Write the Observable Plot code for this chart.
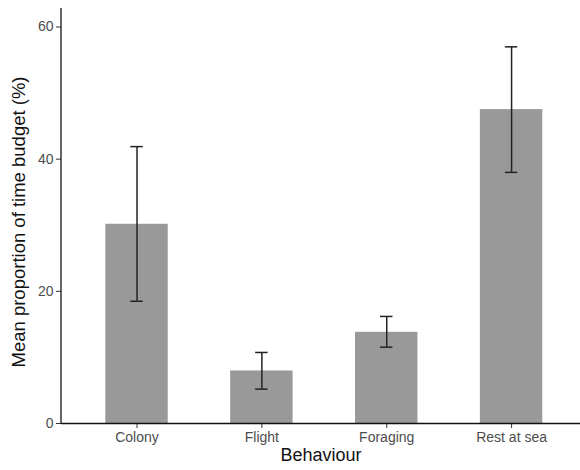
<!DOCTYPE html>
<html>
<head>
<meta charset="utf-8">
<script src="https://cdn.jsdelivr.net/npm/d3@7"></script>
<script src="https://cdn.jsdelivr.net/npm/@observablehq/plot@0.6"></script>
<style>
  html, body { margin: 0; padding: 0; background: #fff; overflow: hidden; }
  svg { display: block; }
</style>
</head>
<body>
<div id="chart"></div>
<script>
const behaviours = ["Colony", "Flight", "Foraging", "Rest at sea"];
const means = [30.15, 7.95, 13.8, 47.5];
const lower = [18.5, 5.2, 11.55, 38.0];
const upper = [41.9, 10.75, 16.2, 57.0];
const yTicks = [0, 20, 40, 60];

const data = behaviours.map((b, i) => ({b, mean: means[i], lo: lower[i], hi: upper[i]}));

const chart = Plot.plot({
  width: 580,
  height: 470,
  marginLeft: 61,
  marginTop: 8,
  marginBottom: 47,
  marginRight: 0,
  style: {fontFamily: "Liberation Sans, Arial, sans-serif", background: "#fff"},
  x: {domain: behaviours, range: [61.6, 586], paddingInner: 0.5, paddingOuter: 0.35, round: false, label: null},
  y: {domain: [0, 62.8], label: null},
  marks: [
    Plot.barY(data, {x: "b", y: "mean", fill: "#999999"}),
    Plot.ruleX(data, {x: "b", y1: "lo", y2: "hi", stroke: "#222", strokeWidth: 1.5}),
    Plot.tickY(data, {x: "b", y: "lo", stroke: "#222", strokeWidth: 1.5, insetLeft: 25, insetRight: 25}),
    Plot.tickY(data, {x: "b", y: "hi", stroke: "#222", strokeWidth: 1.5, insetLeft: 25, insetRight: 25}),
    Plot.axisY({ticks: yTicks, tickSize: 5, tickPadding: 3, fontSize: 14, color: "#4d4d4d", stroke: "#333", label: null}),
    Plot.axisX({tickSize: 5, tickPadding: 4, fontSize: 14, color: "#4d4d4d", stroke: "#333", label: null}),
    Plot.ruleY([0], {stroke: "#111", strokeWidth: 1.3}),
    Plot.text(["Behaviour"], {frameAnchor: "bottom", dy: 37, fontSize: 18, fill: "#111"}),
    Plot.text(["Mean proportion of time budget (%)"], {frameAnchor: "left", textAnchor: "middle", rotate: -90, dx: -42, dy: 6, fontSize: 18.5, fill: "#111"})
  ]
});

// y-axis line along the left frame edge
d3.select(chart).append("line")
  .attr("x1", 61).attr("x2", 61)
  .attr("y1", 8).attr("y2", 423)
  .attr("stroke", "#111").attr("stroke-width", 1.3);

document.getElementById("chart").appendChild(chart);
</script>
</body>
</html>
